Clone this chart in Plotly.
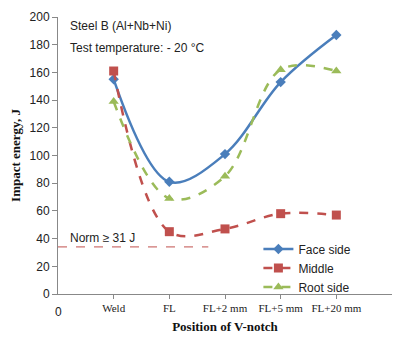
import plotly.graph_objects as go

positions = ["Weld", "FL", "FL+2 mm", "FL+5 mm", "FL+20 mm"]
x_idx = [1, 2, 3, 4, 5]
face_side = [155, 81, 101, 153, 187]
middle = [161, 45, 47, 58, 57]
root_side = [139, 69, 85, 162, 161]
norm_value = 34
norm_x = [0, 2.7]
y_ticks = [0, 20, 40, 60, 80, 100, 120, 140, 160, 180, 200]

fig = go.Figure()
fig.add_trace(go.Scatter(x=x_idx, y=face_side, name="Face side", mode="lines+markers",
                         line=dict(color="#4A7EBB", width=2.5, shape="spline", smoothing=1.0),
                         marker=dict(symbol="diamond", size=8, color="#4A7EBB")))
fig.add_trace(go.Scatter(x=x_idx, y=middle, name="Middle", mode="lines+markers",
                         line=dict(color="#C0504D", width=2.5, dash="dash", shape="spline", smoothing=1.0),
                         marker=dict(symbol="square", size=9, color="#C0504D")))
fig.add_trace(go.Scatter(x=x_idx, y=root_side, name="Root side", mode="lines+markers",
                         line=dict(color="#9BBB59", width=2.5, dash="dash", shape="spline", smoothing=1.0),
                         marker=dict(symbol="triangle-up", size=9, color="#9BBB59")))
fig.add_trace(go.Scatter(x=norm_x, y=[norm_value, norm_value], mode="lines", showlegend=False,
                         line=dict(color="#C0504D", width=1, dash="dash"), hoverinfo="skip"))

sans = "Liberation Sans, Arial, sans-serif"
serif = "Liberation Serif, Times New Roman, serif"

fig.update_layout(
    width=403, height=350,
    margin=dict(l=58, r=11, t=17, b=56),
    paper_bgcolor="white", plot_bgcolor="white",
    showlegend=True,
    legend=dict(x=0.6, y=0.215, xanchor="left", yanchor="top",
                font=dict(family=sans, size=12, color="#222"),
                bgcolor="rgba(255,255,255,0)", tracegroupgap=0),
    xaxis=dict(range=[0, 6], tickvals=x_idx, ticktext=positions,
               showgrid=False, zeroline=False, showline=True, linecolor="#888",
               ticks="outside", ticklen=4, tickcolor="#888",
               tickfont=dict(family=serif, size=11, color="#222"),
               title=dict(text="<b>Position of V-notch</b>", font=dict(family=serif, size=13, color="#111"), standoff=8)),
    yaxis=dict(range=[0, 200], tickvals=y_ticks, showgrid=False, zeroline=False,
               showline=True, linecolor="#888", ticks="outside", ticklen=5, tickcolor="#888",
               tickfont=dict(family=sans, size=12, color="#222"),
               title=dict(text="<b>Impact energy, J</b>", font=dict(family=serif, size=13, color="#111"), standoff=6)),
    annotations=[
        dict(x=0.03, y=1.0, xref="paper", yref="paper", xanchor="left", yanchor="top", showarrow=False,
             text="Steel B (Al+Nb+Ni)", font=dict(family=sans, size=12, color="#222")),
        dict(x=0.03, y=0.92, xref="paper", yref="paper", xanchor="left", yanchor="top", showarrow=False,
             text="Test temperature: - 20 °C", font=dict(family=sans, size=12, color="#222")),
        dict(x=0.03, y=norm_value, xref="paper", yref="y", xanchor="left", yanchor="bottom", showarrow=False,
             text="Norm ≥ 31 J", font=dict(family=sans, size=12, color="#222")),
        dict(x=0, y=0, xref="x", yref="paper", xanchor="center", yanchor="top", yshift=-9, showarrow=False,
             text="0", font=dict(family=sans, size=12, color="#222")),
    ],
)

fig.write_html("out.html")
